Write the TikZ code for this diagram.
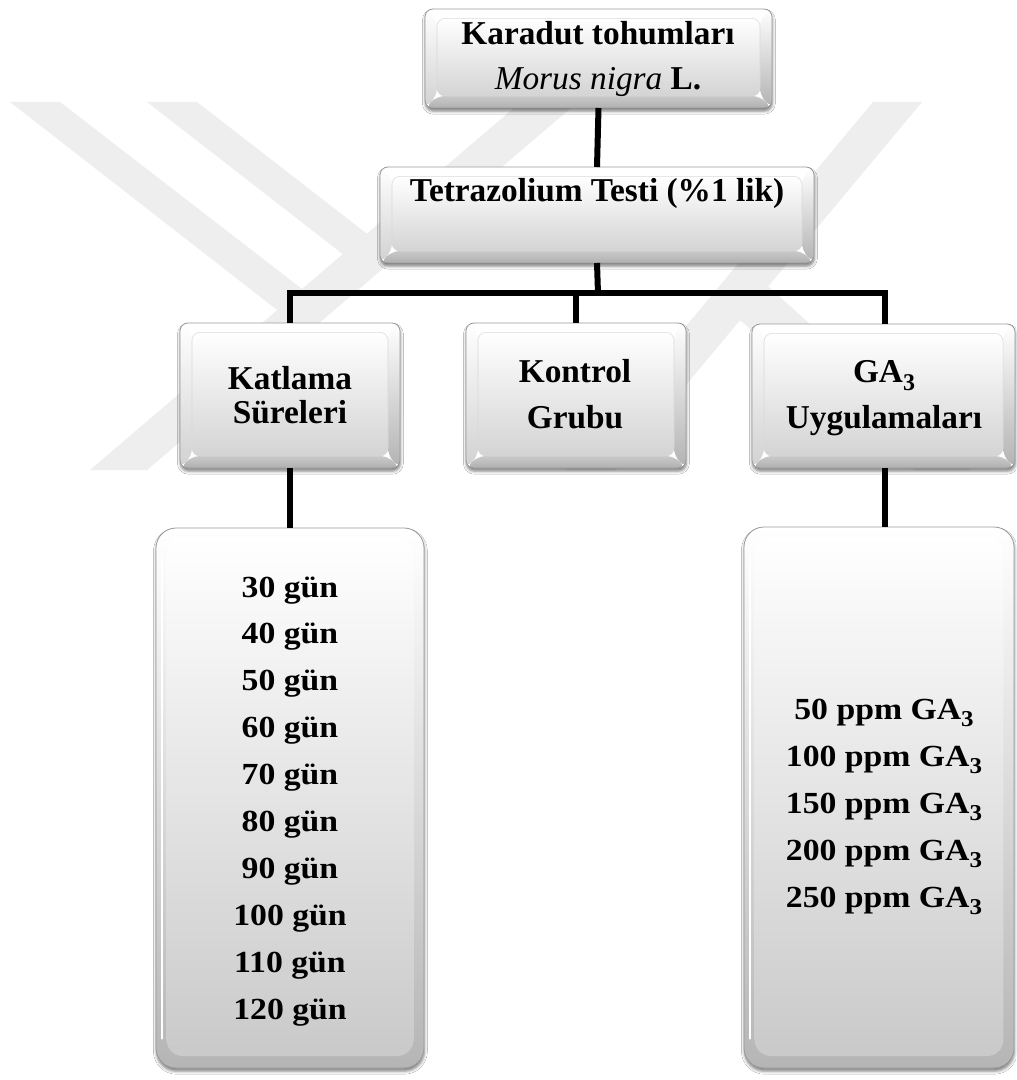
\documentclass[tikz,border=0pt]{standalone}
\usepackage{fontspec}
\setmainfont{Liberation Serif}
\newfontfamily\listfont[FakeStretch=1.1]{Liberation Serif}
\usetikzlibrary{calc,shadows.blur}
\definecolor{wm}{gray}{0.935}
\definecolor{facebot}{gray}{0.83}
\definecolor{rimbot}{gray}{0.70}
\definecolor{rimside}{gray}{0.82}
\definecolor{edgegray}{gray}{0.60}
\newcommand\subthree[1]{\raisebox{-0.24em}{\fontsize{#1}{#1}\selectfont 3}}
\tikzset{
  conn/.style={line width=4.5pt, black},
  bev/.style={rectangle, draw=edgegray, line width=0.6pt, rounded corners=6pt,
    inner sep=0pt, outer sep=0pt, fill=white,
    blur shadow={shadow xshift=0.3pt, shadow yshift=-2.4pt, shadow blur radius=2.2pt, shadow opacity=50},
    path picture={
      \coordinate (ppA) at (path picture bounding box.south west);
      \coordinate (ppC) at (path picture bounding box.north east);
      \coordinate (ppB) at (ppA -| ppC);
      \coordinate (ppD) at (ppA |- ppC);
      \coordinate (ppa) at ($(ppA)+(9pt,9pt)$);
      \coordinate (ppb) at ($(ppB)+(-9pt,9pt)$);
      \coordinate (ppc) at ($(ppC)+(-9pt,-7pt)$);
      \coordinate (ppd) at ($(ppD)+(9pt,-7pt)$);
      \shade[top color=white, bottom color=rimside] (ppA)--(ppa)--(ppd)--(ppD)--cycle;
      \fill[white] (ppD)--(ppd)--(ppc)--(ppC)--cycle;
      \shade[top color=white, bottom color=rimbot] (ppC)--(ppc)--(ppb)--(ppB)--cycle;
      \shade[top color=gray!42, bottom color=gray!62] (ppA)--(ppa)--(ppb)--(ppB)--cycle;
      \shade[top color=white, bottom color=facebot] (ppa) rectangle (ppc);
      \draw[gray!30, line width=0.4pt] (ppa) rectangle (ppc);
    }},
  lst/.style={rectangle, draw=edgegray, line width=0.6pt, rounded corners=15pt,
    inner sep=0pt, outer sep=0pt, fill=white,
    blur shadow={shadow xshift=0.3pt, shadow yshift=-2.4pt, shadow blur radius=2.2pt, shadow opacity=50},
    path picture={
      \coordinate (ppA) at (path picture bounding box.south west);
      \coordinate (ppC) at (path picture bounding box.north east);
      \coordinate (ppD) at (ppA |- ppC);
      \shade[top color=white, bottom color=gray!58] (ppA) rectangle (ppC);
      \shade[top color=white, middle color=gray!6, bottom color=gray!42, rounded corners=12pt]
        ($(ppA)+(8pt,9pt)$) rectangle ($(ppC)+(-8pt,-7pt)$);
      \draw[white, line width=1.6pt, line cap=round] ($(ppA)+(4.5pt,22pt)$) -- ($(ppD)+(4.5pt,-22pt)$);
    }},
  txt/.style={font=\fontsize{25pt}{29pt}\selectfont\bfseries, inner sep=0pt, anchor=base},
  ltxt/.style={font=\listfont\fontsize{23pt}{27pt}\selectfont\bfseries, inner sep=0pt, anchor=base}
}
\begin{document}
\begin{tikzpicture}[x=0.75pt, y=-0.75pt]
\fill[white] (0,0) rectangle (1016,1080);
\useasboundingbox (0,0) rectangle (1016,1080);

% faint watermark
\fill[wm] (10,102) -- (60,102) -- (315,299) -- (290,320) -- cycle;
\fill[wm] (147,102) -- (197,102) -- (375,240) -- (353,262) -- cycle;
\fill[wm] (90,470) -- (147,470) -- (578,102) -- (521,102) -- cycle;
\fill[wm] (873,102) -- (922,102) -- (615,470) -- (566,470) -- cycle;
\fill[wm] (712,296) -- (748,268) -- (971,470) -- (914,470) -- cycle;

% boxes
\node[bev, minimum width=347*0.75pt, minimum height=99*0.75pt] (top) at (598.5,58.5) {};
\node[bev, minimum width=434*0.75pt, minimum height=96*0.75pt] (tz) at (597,215) {};
\node[bev, minimum width=220*0.75pt, minimum height=145*0.75pt] (kat) at (290,395.5) {};
\node[bev, minimum width=220*0.75pt, minimum height=145*0.75pt] (kon) at (576,395.5) {};
\node[bev, minimum width=263*0.75pt, minimum height=144*0.75pt] (ga) at (883.5,396) {};
\node[lst, minimum width=268*0.75pt, minimum height=540*0.75pt] (katlist) at (290,798) {};
\node[lst, minimum width=270*0.75pt, minimum height=541*0.75pt] (galist) at (879,797.5) {};

% connectors
\coordinate (bar) at (598,293.5);
\coordinate (gx) at (885,0);
\draw[conn] (top.south) -- (tz.north);
\draw[conn] (tz.south) -- (bar);
\draw[conn] (kat.north) -- (kat.north |- bar) -- (gx |- bar) -- (gx |- ga.north);
\draw[conn] (kon.north) -- (kon.north |- bar);
\draw[conn] (kat.south) -- (katlist.north);
\draw[conn] (gx |- ga.south) -- (gx |- galist.north);

% texts
\node[txt] (t1) at (598,45) {Karadut tohumları};
\node[txt] (t2) at (598,90) {{\mdseries\itshape Morus nigra} L.};
\node[txt] (t3) at (597,202) {Tetrazolium Testi (\%1 lik)};
\node[txt] (t4) at (290,389.5) {Katlama};
\node[txt] (t5) at (290,423) {Süreleri};
\node[txt] (t6) at (575,382) {Kontrol};
\node[txt] (t7) at (575,428) {Grubu};
\node[txt] (t8) at (884,382) {GA\subthree{18pt}};
\node[txt] (t9) at (884,428) {Uygulamaları};

\foreach \d [count=\i from 0] in {30,40,50,60,70,80,90,100,110,120}
  \node[ltxt] (k\i) at (290,597+46.9*\i) {\d{} gün};
\foreach \d [count=\i from 0] in {50,100,150,200,250}
  \node[ltxt] (g\i) at (884,719+47*\i) {\d{} ppm GA\subthree{17pt}};
\end{tikzpicture}
\end{document}
